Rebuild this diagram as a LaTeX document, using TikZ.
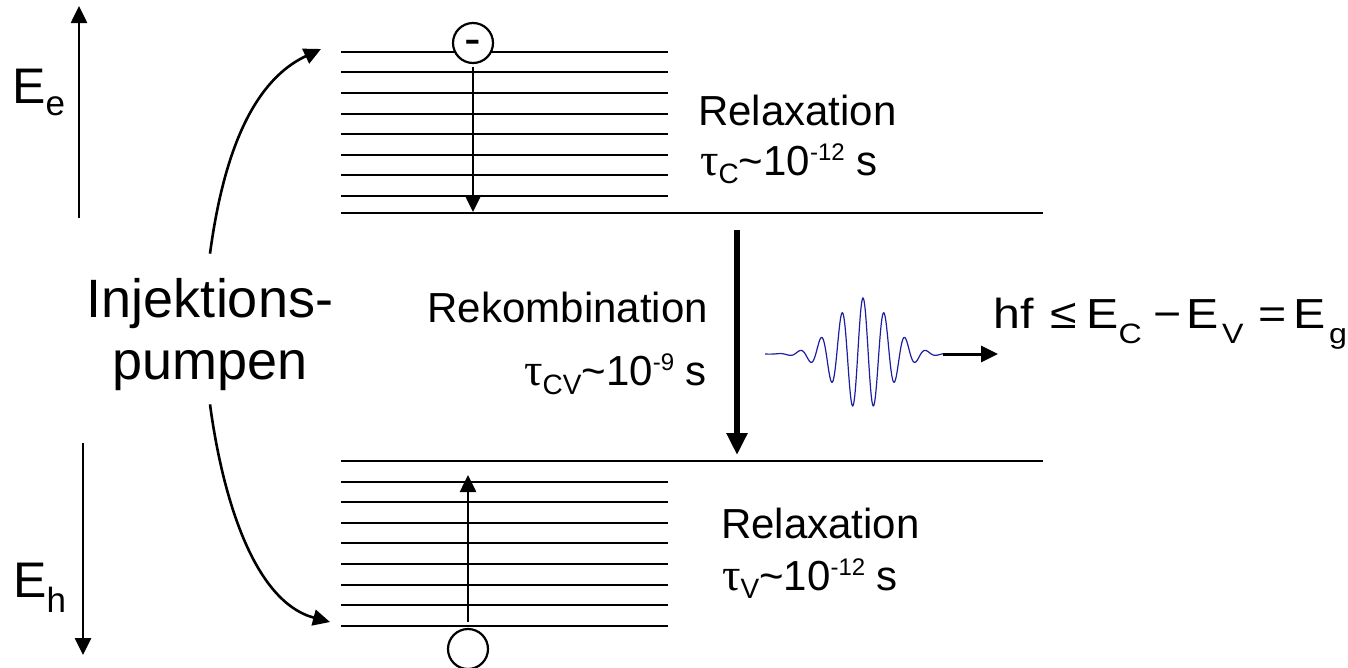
\documentclass[tikz,border=0pt]{standalone}
\usepackage{fontspec}
\setmainfont{Liberation Sans}
\newfontfamily\greekfont{Liberation Serif}
\usetikzlibrary{arrows.meta}
\definecolor{wavec}{RGB}{30,30,160}
\newcommand\fs[1]{\fontsize{#1}{#1}\selectfont}
\newcommand\lowtext[3]{\raisebox{-#2pt}{\fs{#1}#3}}
\newcommand\hightext[3]{\raisebox{#2pt}{\fs{#1}#3}}
\newcommand\putat[2]{\makebox[0pt][l]{\hspace*{#1pt}#2}}
\newcommand\fx[1]{\scalebox{1.15}[1]{#1}}
\newcommand\tauch{{\greekfont\fontsize{46}{46}\selectfont τ}}
\begin{document}
\begin{tikzpicture}[x=1pt,y=-1pt,
  band/.style={line width=2.2pt},
  tip/.style={-{Triangle[length=17pt,width=16pt]}, line width=2.6pt},
  bigtip/.style={-{Triangle[length=22pt,width=20pt]}, line width=5.5pt},
  lbl/.style={font=\fs{42}, inner sep=0pt},
  particle/.style={circle, draw, line width=2.2pt, fill=white, minimum size=40pt, inner sep=0pt},
  wave/.style={draw=wavec, line width=1.2pt}]
\useasboundingbox (0,0) rectangle (1348,667);
% conduction band levels
\foreach \y in {52,72,93,114,134,155,175,196} \draw[band] (341,\y) -- (668,\y);
\draw[band] (341,213) -- (1043,213);
% valence band levels
\draw[band] (341,461) -- (1043,461);
\foreach \y in {482,502,523,543,564,585,605,626} \draw[band] (341,\y) -- (668,\y);
% energy axes
\coordinate (EeBot) at (79,218); \coordinate (EeTop) at (79,6);
\draw[tip] (EeBot) -- (EeTop);
\coordinate (EhTop) at (83,443); \coordinate (EhBot) at (83,655);
\draw[tip] (EhTop) -- (EhBot);
\node[lbl, anchor=base west, font=\fs{50}] (Ee) at (12,103) {E\lowtext{35}{12}{e}};
\node[lbl, anchor=base west, font=\fs{50}] (Eh) at (13,597) {E\lowtext{35}{15}{h}};
% electron and hole
\node[particle] (el) at (473,43) {\fs{50}\raisebox{-0.25em}[0pt][0pt]{-}};
\coordinate (elEnd) at (473,212);
\draw[tip, shorten <=3pt] (el) -- (elEnd);
\node[particle] (ho) at (468,649) {};
\coordinate (hoEnd) at (468,475);
\draw[tip, shorten <=6pt] (ho) -- (hoEnd);
% injection pumping
\node[lbl, font=\fontsize{54}{62}\selectfont, align=center] (inj) at (210,335) {Injektions-\\pumpen};
\coordinate (pumpTop) at (321,49);
\coordinate (pumpBot) at (330,622);
\draw[tip] ([yshift=25pt]inj.north) .. controls (222,164) and (248.5,83) .. (pumpTop);
\draw[tip] ([yshift=-13pt]inj.south) .. controls (222,494) and (252.7,601.3) .. (pumpBot);
% recombination
\coordinate (rTop) at (737,230); \coordinate (rBot) at (737,455);
\draw[bigtip] (rTop) -- (rBot);
% labels
\node[lbl, anchor=base west] (rc) at (698,125) {Relaxation};
\node[lbl, anchor=base west] (tc) at (700,175) {\tauch\lowtext{28}{8}{C}\textasciitilde 10\hightext{24}{15}{-12} s};
\node[lbl, anchor=base east] (rk) at (708,322) {Rekombination};
\node[lbl, anchor=base east] (tcv) at (707,385) {\tauch\lowtext{28}{9}{CV}\textasciitilde 10\hightext{24}{15}{-9} s};
\node[lbl, anchor=base west] (rv) at (721,538) {Relaxation};
\node[lbl, anchor=base west] (tv) at (722,590) {\tauch\lowtext{28}{8}{V}\textasciitilde 10\hightext{24}{15}{-12} s};
% photon wave packet
\draw[wave] plot[domain=765:945, samples=400] (\x, {354 - 56*cos(17.142857*(\x-863))*exp(-(\x-863)*(\x-863)/1426)});
\coordinate (wend) at (943,354);
\node[lbl, anchor=base west] (f) at (998,328) {\putat{-4.4}{\fx{hf}}\putat{52}{\fx{≤}}\putat{88}{\fx{E}}\putat{120.5}{\lowtext{28}{15}{\fx{C}}}\putat{155}{\fx{−}}\putat{188}{\fx{E}}\putat{224}{\lowtext{28}{15}{\fx{V}}}\putat{260}{\fx{=}}\putat{295}{\fx{E}}\putat{331}{\lowtext{28}{15}{\fx{g}}}\hspace*{347pt}};
\draw[tip, line width=3pt] (wend) -- (wend -| f.west);
\end{tikzpicture}
\end{document}
